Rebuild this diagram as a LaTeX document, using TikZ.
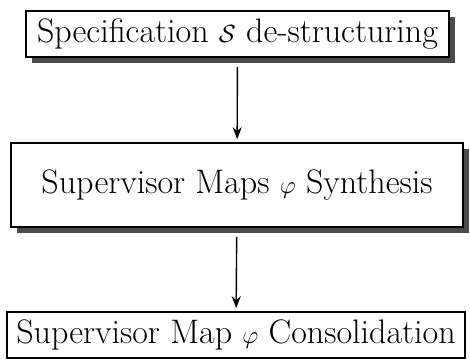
\documentclass[tikz,border=0pt]{standalone}
\usetikzlibrary{shadows,arrows.meta}
\begin{document}
\begin{tikzpicture}[x=1pt,y=1pt,>={Stealth[length=12pt,width=9pt]},
stage/.style = {draw, line width=1.6pt, fill=white, inner sep=0pt, font=\fontsize{34}{40}\selectfont},
shade/.style = {drop shadow={shadow xshift=6pt, shadow yshift=-6pt, fill=black!70, opacity=1}},]
\useasboundingbox (0,0) rectangle (470,360);
\node (spec) at (237.5,326)[stage,shade,minimum width=423pt,minimum height=46pt] {Specification $\mathcal{S}$ de-structuring};
\node (synth) at (237,175)[stage,shade,minimum width=452pt,minimum height=84pt] {Supervisor Maps $\varphi$ Synthesis};
\node (cons) at (236,25)[stage,minimum width=458pt,minimum height=46pt] {Supervisor Map $\varphi$ Consolidation};
\draw[->,line width=1.4pt,shorten <=9pt,shorten >=3pt] (spec)--(synth);
\draw[->,line width=1.4pt,shorten <=9pt,shorten >=3pt] (synth)--(cons);
\end{tikzpicture}
\end{document}
